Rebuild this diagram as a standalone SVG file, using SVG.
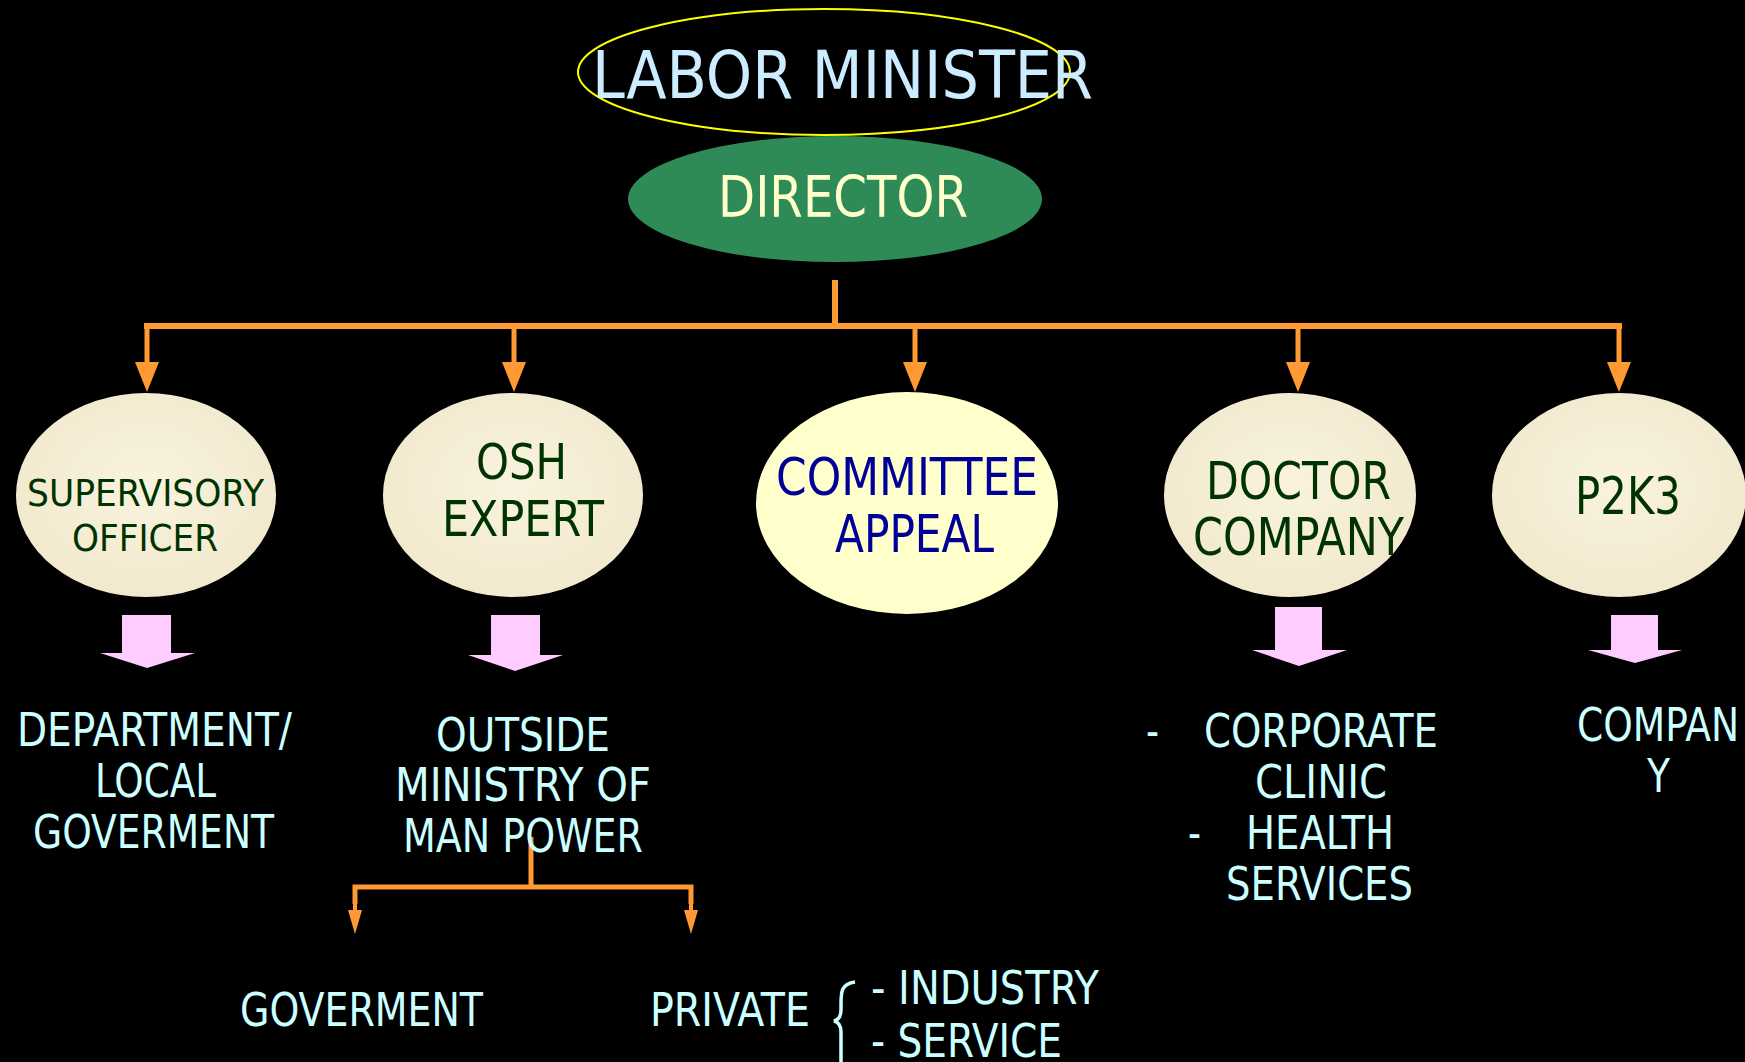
<svg xmlns="http://www.w3.org/2000/svg" width="1745" height="1062" viewBox="0 0 1745 1062">
<defs>
<style>
text{font-family:"DejaVu Sans Condensed","DejaVu Sans","Liberation Sans",sans-serif;}
.parch{fill:#F6EED6;}
.dg{fill:#003300;}
.lc{fill:#CCFFFF;}
.conn{stroke:#FF9933;fill:none;}
.pink{fill:#FFCCFF;}
</style>
<marker id="ah" viewBox="0 0 10 10" refX="5" refY="10" markerWidth="5" markerHeight="6" orient="auto-start-reverse" markerUnits="strokeWidth">
<path d="M0,0 L10,0 L5,10 Z" fill="#FF9933" transform="rotate(0)"/>
</marker>
<radialGradient id="pg" cx="50%" cy="45%" r="60%">
<stop offset="0" stop-color="#F9F3DF"/>
<stop offset="1" stop-color="#F1E8CC"/>
</radialGradient>
</defs>
<rect width="1745" height="1062" fill="#000"/>

<g id="labor-minister">
<ellipse cx="824" cy="72" rx="246" ry="63" fill="none" stroke="#FFFF00" stroke-width="2"/>
<text x="592" y="98" font-size="66" fill="#CCECFF" textLength="501" lengthAdjust="spacingAndGlyphs">LABOR MINISTER</text>
</g>

<g id="director">
<ellipse cx="835" cy="199" rx="207" ry="63" fill="#2E8B57"/>
<text x="718" y="217" font-size="57" fill="#FFFFCC" textLength="250" lengthAdjust="spacingAndGlyphs">DIRECTOR</text>
</g>

<g id="connectors">
<path class="conn" stroke-width="6" d="M835,280 V326"/>
<path class="conn" stroke-width="6" d="M144,326 H1622"/>
<g fill="#FF9933">
<path class="conn" stroke-width="5" d="M147,326 V364"/>
<path d="M135,362 L159,362 L147,392 Z"/>
<path class="conn" stroke-width="5" d="M514,326 V364"/>
<path d="M502,362 L526,362 L514,392 Z"/>
<path class="conn" stroke-width="5" d="M915,326 V364"/>
<path d="M903,362 L927,362 L915,392 Z"/>
<path class="conn" stroke-width="5" d="M1298,326 V364"/>
<path d="M1286,362 L1310,362 L1298,392 Z"/>
<path class="conn" stroke-width="5" d="M1619,326 V364"/>
<path d="M1607,362 L1631,362 L1619,392 Z"/>
</g>
<path class="conn" stroke-width="5" d="M531,837 V887"/>
<path class="conn" stroke-width="5" d="M355,904 V887 H691 V904"/>
<g fill="#FF9933">
<path class="conn" stroke-width="4" d="M355,885 V912"/>
<path d="M348,910 L362,910 L355,934 Z"/>
<path class="conn" stroke-width="4" d="M691,885 V912"/>
<path d="M684,910 L698,910 L691,934 Z"/>
</g>
</g>

<g id="supervisory-officer">
<ellipse cx="146" cy="495" rx="130" ry="102" fill="url(#pg)"/>
<text class="dg" x="27" y="506" font-size="38" textLength="237" lengthAdjust="spacingAndGlyphs">SUPERVISORY</text>
<text class="dg" x="72" y="551" font-size="38" textLength="146" lengthAdjust="spacingAndGlyphs">OFFICER</text>
</g>

<g id="osh-expert">
<ellipse cx="513" cy="495" rx="130" ry="102" fill="url(#pg)"/>
<text class="dg" x="476" y="479" font-size="50" textLength="91" lengthAdjust="spacingAndGlyphs">OSH</text>
<text class="dg" x="442" y="536" font-size="50" textLength="162" lengthAdjust="spacingAndGlyphs">EXPERT</text>
</g>

<g id="committee-appeal">
<ellipse cx="907" cy="503" rx="151" ry="111" fill="#FFFFCC"/>
<text x="776" y="495" font-size="52" fill="#000099" textLength="262" lengthAdjust="spacingAndGlyphs">COMMITTEE</text>
<text x="835" y="552" font-size="52" fill="#000099" textLength="159" lengthAdjust="spacingAndGlyphs">APPEAL</text>
</g>

<g id="doctor-company">
<ellipse cx="1290" cy="495" rx="126" ry="102" fill="url(#pg)"/>
<text class="dg" x="1206" y="499" font-size="52" textLength="185" lengthAdjust="spacingAndGlyphs">DOCTOR</text>
<text class="dg" x="1193" y="555" font-size="52" textLength="211" lengthAdjust="spacingAndGlyphs">COMPANY</text>
</g>

<g id="p2k3">
<ellipse cx="1619" cy="495" rx="127" ry="102" fill="url(#pg)"/>
<text class="dg" x="1575" y="514" font-size="52" textLength="106" lengthAdjust="spacingAndGlyphs">P2K3</text>
</g>

<g id="pink-arrows">
<path class="pink" d="M122,615 H171 V653 H195 L147,668 L100,653 H122 Z"/>
<path class="pink" d="M491,615 H540 V655 H563 L515,671 L468,655 H491 Z"/>
<path class="pink" d="M1275,607 H1322 V650 H1347 L1299,666 L1252,650 H1275 Z"/>
<path class="pink" d="M1611,615 H1658 V650 H1682 L1635,663 L1588,650 H1611 Z"/>
</g>

<g id="department-local">
<text class="lc" x="17" y="746" font-size="46" textLength="275" lengthAdjust="spacingAndGlyphs">DEPARTMENT/</text>
<text class="lc" x="95" y="797" font-size="46" textLength="121" lengthAdjust="spacingAndGlyphs">LOCAL</text>
<text class="lc" x="33" y="848" font-size="46" textLength="241" lengthAdjust="spacingAndGlyphs">GOVERMENT</text>
</g>

<g id="outside-ministry">
<text class="lc" x="436" y="751" font-size="46" textLength="174" lengthAdjust="spacingAndGlyphs">OUTSIDE</text>
<text class="lc" x="395" y="801" font-size="46" textLength="256" lengthAdjust="spacingAndGlyphs">MINISTRY OF</text>
<text class="lc" x="403" y="852" font-size="46" textLength="240" lengthAdjust="spacingAndGlyphs">MAN POWER</text>
</g>

<g id="goverment">
<text class="lc" x="240" y="1026" font-size="46" textLength="243" lengthAdjust="spacingAndGlyphs">GOVERMENT</text>
</g>

<g id="private">
<text class="lc" x="650" y="1026" font-size="46" textLength="160" lengthAdjust="spacingAndGlyphs">PRIVATE</text>
<path d="M855,982 C841,984 841,992 841,1004 V1010 C841,1017 838,1020 834,1021 C838,1022 841,1025 841,1032 V1062" fill="none" stroke="#CCFFFF" stroke-width="3.5"/>
<text class="lc" x="871" y="1004" font-size="46" textLength="228" lengthAdjust="spacingAndGlyphs">- INDUSTRY</text>
<text class="lc" x="871" y="1057" font-size="46" textLength="191" lengthAdjust="spacingAndGlyphs">- SERVICE</text>
</g>

<g id="doctor-services">
<text class="lc" x="1146" y="747" font-size="46" textLength="13" lengthAdjust="spacingAndGlyphs">-</text>
<text class="lc" x="1204" y="747" font-size="46" textLength="234" lengthAdjust="spacingAndGlyphs">CORPORATE</text>
<text class="lc" x="1255" y="798" font-size="46" textLength="132" lengthAdjust="spacingAndGlyphs">CLINIC</text>
<text class="lc" x="1188" y="849" font-size="46" textLength="13" lengthAdjust="spacingAndGlyphs">-</text>
<text class="lc" x="1246" y="849" font-size="46" textLength="148" lengthAdjust="spacingAndGlyphs">HEALTH</text>
<text class="lc" x="1226" y="900" font-size="46" textLength="187" lengthAdjust="spacingAndGlyphs">SERVICES</text>
</g>

<g id="company">
<text class="lc" x="1577" y="741" font-size="46" textLength="162" lengthAdjust="spacingAndGlyphs">COMPAN</text>
<text class="lc" x="1647" y="792" font-size="46" textLength="23" lengthAdjust="spacingAndGlyphs">Y</text>
</g>
</svg>
